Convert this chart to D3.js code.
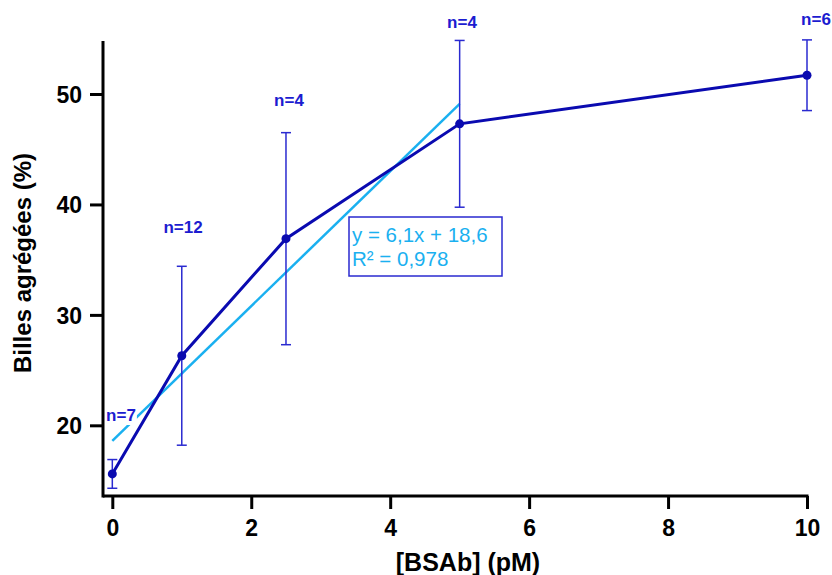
<!DOCTYPE html>
<html><head><meta charset="utf-8">
<script src="https://cdn.jsdelivr.net/npm/d3@7"></script>
<style>body{margin:0;background:#fff}svg{display:block}</style>
</head><body>
<svg id="c" width="832" height="575"></svg>
<script>
const concentrations = [0, 1, 2.5, 5, 10];
const means = [15.6, 26.3, 36.9, 47.3, 51.7];
const sds = [1.3, 8.1, 9.6, 7.55, 3.2];
const nLabels = ["n=7", "n=12", "n=4", "n=4", "n=6"];
const xTicks = [0, 2, 4, 6, 8, 10];
const yTicks = [20, 30, 40, 50];
const fitSlope = 6.1, fitIntercept = 18.6, fitRange = [0, 5];
const eqLines = ["y = 6,1x + 18,6", "R² = 0,978"];

const svg = d3.select("#c");
const x = d3.scaleLinear().domain([-0.134, 10]).range([103, 807]);
const y = d3.scaleLinear().domain([13.6, 54.8]).range([496, 41]);
const DARK = "#0a0ab0", BAR = "#2a2ad0", LIGHT = "#1ab0f0", LBL = "#1c1cd0";

// axes
const xAx = svg.append("g").attr("transform", "translate(0,496)")
  .call(d3.axisBottom(x).tickValues(xTicks).tickSize(13).tickPadding(5).tickSizeOuter(0));
const yAx = svg.append("g").attr("transform", "translate(103,0)")
  .call(d3.axisLeft(y).tickValues(yTicks).tickSize(13).tickPadding(8).tickSizeOuter(0));
[xAx, yAx].forEach(a => {
  a.select(".domain").attr("stroke", "#000").attr("stroke-width", 3);
  a.selectAll(".tick line").attr("stroke", "#000").attr("stroke-width", 3);
  a.selectAll(".tick text").attr("fill", "#000").attr("font-family", "Liberation Sans, Arial, sans-serif")
    .attr("font-weight", "bold").attr("font-size", 23);
});
xAx.select(".domain").attr("d", "M103,0H808.5");
yAx.select(".domain").attr("d", "M0,41V497.5");
xAx.selectAll(".tick text").attr("dy", "0.95em");
yAx.selectAll(".tick text").attr("dy", "0.36em");

// titles
svg.append("text").attr("x", 468).attr("y", 571).attr("text-anchor", "middle")
  .attr("font-family", "Liberation Sans, Arial, sans-serif").attr("font-weight", "bold")
  .attr("font-size", 25).text("[BSAb] (pM)");
svg.append("text").attr("transform", "translate(31,263) rotate(-90)").attr("text-anchor", "middle")
  .attr("font-family", "Liberation Sans, Arial, sans-serif").attr("font-weight", "bold")
  .attr("font-size", 24).text("Billes agrégées (%)");

// regression line
svg.append("line")
  .attr("x1", x(fitRange[0])).attr("y1", y(fitIntercept + fitSlope * fitRange[0]))
  .attr("x2", x(fitRange[1])).attr("y2", y(fitIntercept + fitSlope * fitRange[1]))
  .attr("stroke", LIGHT).attr("stroke-width", 2.5);

// error bars
const eb = svg.append("g").attr("stroke", BAR).attr("stroke-width", 1.5);
concentrations.forEach((c, i) => {
  const cx = x(c), t = y(means[i] + sds[i]), b = y(means[i] - sds[i]);
  eb.append("line").attr("x1", cx).attr("x2", cx).attr("y1", t).attr("y2", b);
  eb.append("line").attr("x1", cx - 5).attr("x2", cx + 5).attr("y1", t).attr("y2", t);
  eb.append("line").attr("x1", cx - 5).attr("x2", cx + 5).attr("y1", b).attr("y2", b);
});

// data line
const pts = concentrations.map((c, i) => [c, means[i]]);
svg.append("path").datum(pts)
  .attr("d", d3.line().x(d => x(d[0])).y(d => y(d[1])))
  .attr("fill", "none").attr("stroke", DARK).attr("stroke-width", 3);
svg.append("g").selectAll("circle").data(pts).join("circle")
  .attr("cx", d => x(d[0])).attr("cy", d => y(d[1])).attr("r", 4.5).attr("fill", DARK);

// n labels
const nPos = [[121, 421], [183, 233], [289, 106], [462, 28], [816, 25]];
nLabels.forEach((t, i) => {
  const g = svg.append("g");
  const tx = g.append("text").attr("x", nPos[i][0]).attr("y", nPos[i][1]).attr("text-anchor", "middle")
    .attr("font-family", "Liberation Sans, Arial, sans-serif").attr("font-weight", "bold")
    .attr("font-size", 17).attr("fill", LBL).text(t);
  const bb = tx.node().getBBox();
  g.insert("rect", "text").attr("x", bb.x - 1).attr("y", bb.y + 2).attr("width", bb.width + 2)
    .attr("height", bb.height - 2).attr("fill", "#fff");
});

// equation box
svg.append("rect").attr("x", 349).attr("y", 217).attr("width", 153).attr("height", 59)
  .attr("fill", "#fff").attr("stroke", BAR).attr("stroke-width", 1.5);
eqLines.forEach((t, i) => {
  svg.append("text").attr("x", 352).attr("y", 242 + i * 24)
    .attr("font-family", "Liberation Sans, Arial, sans-serif").attr("font-size", 20.5)
    .attr("fill", LIGHT).text(t);
});
</script>
</body></html>
